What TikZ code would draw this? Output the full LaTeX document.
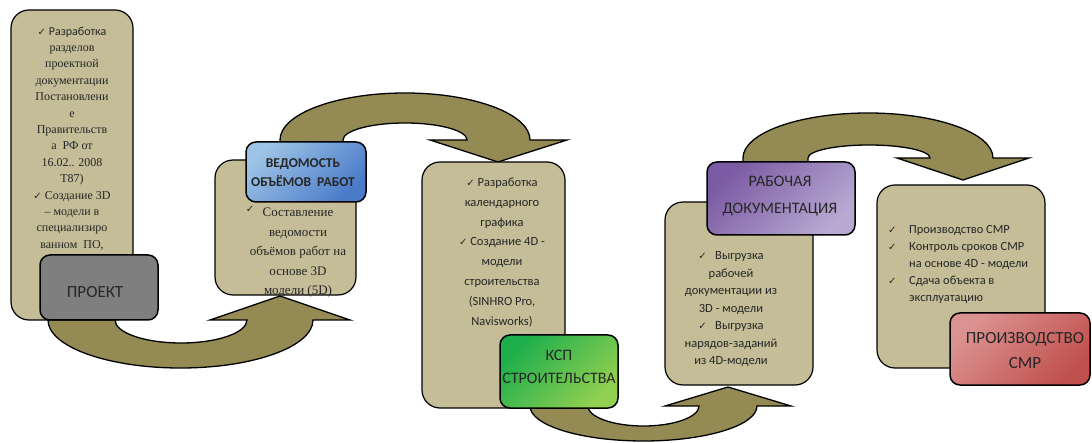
\documentclass[tikz,border=0pt]{standalone}
\usepackage{fontspec}
\setmainfont{Liberation Serif}
\newfontfamily\calibri{Carlito}
\newfontfamily\symfont{DejaVu Sans}
\newcommand\chk{{\symfont\fontsize{10}{10}\selectfont ✓}}
\definecolor{tanfill}{HTML}{C4BD97}
\definecolor{olivefill}{HTML}{948A54}
\definecolor{grayfill}{HTML}{7F7F7F}
\definecolor{bluelight}{HTML}{9DC3E6}
\definecolor{bluedark}{HTML}{4A7BC8}
\definecolor{greendark}{HTML}{1EAE4C}
\definecolor{greenlight}{HTML}{92D050}
\definecolor{purpledark}{HTML}{7B5BA3}
\definecolor{purplelight}{HTML}{B8A8D2}
\definecolor{redlight}{HTML}{DB9391}
\definecolor{reddark}{HTML}{C0504D}
\definecolor{textgray}{HTML}{262626}
\begin{document}
\begin{tikzpicture}[x=1pt,y=-1pt,
  tanbox/.style={draw=black, line width=1.2pt, fill=tanfill, rounded corners=18pt, inner sep=0pt},
  headbox/.style={draw=black, line width=1.5pt, rounded corners=10pt, inner sep=0pt},
  bigarrow/.style={draw=black, line width=1.3pt, fill=olivefill, line join=miter},
  serifbody/.style={align=center, text=textgray, inner sep=0pt},
  sansbody/.style={align=center, text=textgray, inner sep=0pt, font=\calibri},
]
\useasboundingbox (0,0) rectangle (1092,443);

% curved block arrows
\path[bigarrow] (280,146) -- (280,140) arc[start angle=180,end angle=360,x radius=125,y radius=47]
  -- (567,140) -- (498,162) -- (430,140) -- (467,140)
  arc[start angle=0,end angle=-180,x radius=62,y radius=17] -- (343,146) -- cycle;
\path[bigarrow] (743,166) -- (743,158) arc[start angle=180,end angle=360,x radius=125,y radius=45]
  -- (1029,158) -- (963,180) -- (897,158) -- (930,158)
  arc[start angle=0,end angle=-180,x radius=61,y radius=13] -- (808,166) -- cycle;
\path[bigarrow] (48,314) -- (48,320) arc[start angle=180,end angle=0,x radius=132.5,y radius=48]
  -- (350,320) -- (280,296) -- (210,320) -- (247,320)
  arc[start angle=0,end angle=180,x radius=66,y radius=23] -- (115,314) -- cycle;
\path[bigarrow] (530,400) -- (530,406) arc[start angle=180,end angle=0,x radius=113.5,y radius=35]
  -- (791,406) -- (728,387) -- (665,406) -- (699,406)
  arc[start angle=0,end angle=180,x radius=55.5,y radius=20] -- (588,400) -- cycle;

% tan boxes
\node[tanbox, minimum width=122pt, minimum height=310pt] (b1) at (72,165) {};
\node[tanbox, minimum width=141pt, minimum height=135pt] (b2) at (285.5,227.5) {};
\node[tanbox, minimum width=143pt, minimum height=246pt] (b3) at (493.5,285) {};
\node[tanbox, minimum width=148pt, minimum height=183pt] (b4) at (739,293.5) {};
\node[tanbox, minimum width=168pt, minimum height=183pt] (b5) at (961,276.5) {};

% heading boxes
\node[headbox, fill=grayfill, minimum width=118pt, minimum height=65pt] (h1) at (99,287.5) {};
\node[headbox, top color=bluelight, bottom color=bluedark, shading angle=45, minimum width=120pt, minimum height=60pt] (h2) at (306,172) {};
\node[headbox, top color=greendark, bottom color=greenlight, shading angle=45, minimum width=118pt, minimum height=73pt] (h3) at (559,371.5) {};
\node[headbox, top color=purpledark, bottom color=purplelight, shading angle=45, minimum width=148pt, minimum height=73pt] (h4) at (781,198.5) {};
\node[headbox, top color=redlight, bottom color=reddark, shading angle=45, minimum width=140pt, minimum height=72pt] (h5) at (1020,349) {};

% body texts
\node[serifbody, font=\fontsize{12}{16.4}\selectfont] (t1) at (72,138.5)
  {{\calibri\chk\ Разработка}\\разделов\\проектной\\документации\\Постановлени\\е\\Правительств\\а\ \ РФ от\\16.02.. 2008\\Т87)\\\chk\ Создание 3D\\– модели в\\специализиро\\ванном\ \ ПО,};

\node[serifbody] (c2) at (250,209) {\chk};
\node[serifbody, font=\fontsize{13}{19.5}\selectfont] (t2) at (298,253)
  {Составление\\ведомости\\объёмов работ на\\основе 3D\\модели (5D)};

\node[sansbody, font=\calibri\fontsize{12.5}{19.9}\selectfont] (t3) at (502,252.5)
  {\chk\ Разработка\\календарного\\графика\\\chk\ Создание 4D -\\модели\\строительства\\(SINHRO Pro,\\Navisworks)};

\node[sansbody, font=\calibri\fontsize{12.5}{17.5}\selectfont] (t4) at (731,309.5)
  {\chk\ \ \ Выгрузка\\рабочей\\документации из\\3D - модели\\\chk\ \ \ Выгрузка\\нарядов-заданий\\из 4D-модели};

\node[sansbody, align=left, anchor=west, font=\calibri\fontsize{12.4}{17}\selectfont] (t5) at (888,264)
  {\makebox[21pt][l]{\chk}Производство СМР\\\makebox[21pt][l]{\chk}Контроль сроков СМР\\\hspace*{21pt}на основе 4D - модели\\\makebox[21pt][l]{\chk}Сдача объекта в\\\hspace*{21pt}эксплуатацию};

% heading texts
\node[sansbody, font=\calibri\fontsize{17}{20}\selectfont] (l1) at (95,292) {ПРОЕКТ};
\node[sansbody, font=\calibri\bfseries\fontsize{13.5}{19.5}\selectfont] (l2) at (303,172.5) {ВЕДОМОСТЬ\\ОБЪЁМОВ\ \ РАБОТ};
\node[sansbody, font=\calibri\fontsize{16}{23}\selectfont] (l3) at (559,366.5) {КСП\\СТРОИТЕЛЬСТВА};
\node[sansbody, font=\calibri\fontsize{16}{27}\selectfont] (l4) at (780,196.5) {РАБОЧАЯ\\ДОКУМЕНТАЦИЯ};
\node[sansbody, font=\calibri\fontsize{17}{25}\selectfont] (l5) at (1025,350.5) {ПРОИЗВОДСТВО\\СМР};
\end{tikzpicture}
\end{document}
